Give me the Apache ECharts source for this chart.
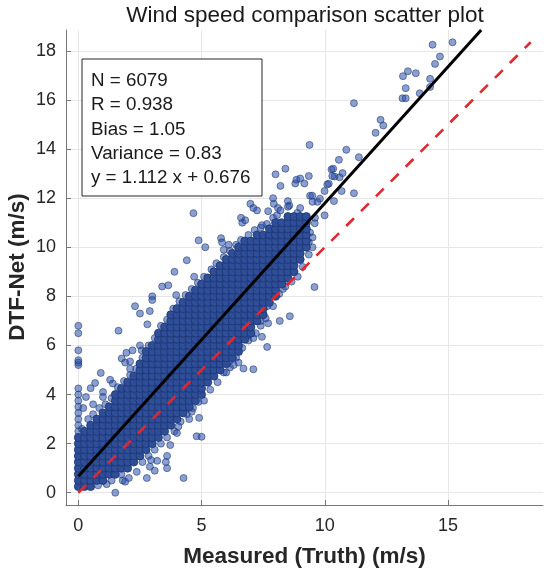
<!DOCTYPE html>
<html>
<head>
<meta charset="utf-8">
<script src="https://cdn.jsdelivr.net/npm/echarts@6/dist/echarts.min.js"></script>
<style>
  html, body { margin: 0; padding: 0; background: #fff; }
  #chart { width: 550px; height: 577px; }
</style>
</head>
<body>
<div id="chart"></div>
<script>
// ---------- data ----------
const titleText = 'Wind speed comparison scatter plot';
const xAxisTitle = 'Measured (Truth) (m/s)';
const yAxisTitle = 'DTF-Net (m/s)';
const xTicks = [0, 5, 10, 15];
const yTicks = [0, 2, 4, 6, 8, 10, 12, 14, 16, 18];
const axisMin = -0.5;
const axisMax = 18.85;
const fitSlope = 1.112;
const fitIntercept = 0.676;
const statsLines = ['N = 6079', 'R = 0.938', 'Bias = 1.05', 'Variance = 0.83', 'y = 1.112 x + 0.676'];

// dense core, columns [x, [y values]]
const coreA = [
  [0, [0.25,0.5,0.75,1,1.25,1.5,1.75,2,2.25]],
  [0.25, [0.25,0.5,0.75,1,1.25,1.5,1.75,2,2.25,2.5]],
  [0.5, [0.25,0.5,0.75,1,1.25,1.5,1.75,2,2.25,2.5,2.75]],
  [0.75, [0.5,0.75,1,1.25,1.5,1.75,2,2.25,2.5,2.75,3]],
  [1, [0.5,0.75,1,1.25,1.5,1.75,2,2.25,2.5,2.75,3,3.25]],
  [1.25, [0.75,1,1.25,1.5,1.75,2,2.25,2.5,2.75,3,3.25,3.5]],
  [1.5, [0.75,1,1.25,1.5,1.75,2,2.25,2.5,2.75,3,3.25,3.5,3.75,4]],
  [1.75, [1,1.25,1.5,1.75,2,2.25,2.5,2.75,3,3.25,3.5,3.75,4,4.25]],
  [2, [1,1.25,1.5,1.75,2,2.25,2.5,2.75,3,3.25,3.5,3.75,4,4.25,4.5]]
];
const coreB = [
  [2.25, [1.25,1.5,1.75,2,2.25,2.5,2.75,3,3.25,3.5,3.75,4,4.25,4.5,4.75]],
  [2.5, [1.5,1.75,2,2.25,2.5,2.75,3,3.25,3.5,3.75,4,4.25,4.5,4.75,5,5.25]],
  [2.75, [1.75,2,2.25,2.5,2.75,3,3.25,3.5,3.75,4,4.25,4.5,4.75,5,5.25,5.5,5.75]],
  [3, [2,2.25,2.5,2.75,3,3.25,3.5,3.75,4,4.25,4.5,4.75,5,5.25,5.5,5.75,6]],
  [3.25, [2.25,2.5,2.75,3,3.25,3.5,3.75,4,4.25,4.5,4.75,5,5.25,5.5,5.75,6,6.25,6.5]],
  [3.5, [2.5,2.75,3,3.25,3.5,3.75,4,4.25,4.5,4.75,5,5.25,5.5,5.75,6,6.25,6.5,6.75]],
  [3.75, [2.75,3,3.25,3.5,3.75,4,4.25,4.5,4.75,5,5.25,5.5,5.75,6,6.25,6.5,6.75,7,7.25]],
  [4, [3,3.25,3.5,3.75,4,4.25,4.5,4.75,5,5.25,5.5,5.75,6,6.25,6.5,6.75,7,7.25,7.5]],
  [4.25, [3.25,3.5,3.75,4,4.25,4.5,4.75,5,5.25,5.5,5.75,6,6.25,6.5,6.75,7,7.25,7.5,7.75]],
  [4.5, [3.5,3.75,4,4.25,4.5,4.75,5,5.25,5.5,5.75,6,6.25,6.5,6.75,7,7.25,7.5,7.75,8]]
];
const coreC = [
  [4.75, [3.75,4,4.25,4.5,4.75,5,5.25,5.5,5.75,6,6.25,6.5,6.75,7,7.25,7.5,7.75,8,8.25]],
  [5, [4,4.25,4.5,4.75,5,5.25,5.5,5.75,6,6.25,6.5,6.75,7,7.25,7.5,7.75,8,8.25,8.5]],
  [5.25, [4.5,4.75,5,5.25,5.5,5.75,6,6.25,6.5,6.75,7,7.25,7.5,7.75,8,8.25,8.5,8.75]],
  [5.5, [4.75,5,5.25,5.5,5.75,6,6.25,6.5,6.75,7,7.25,7.5,7.75,8,8.25,8.5,8.75,9]],
  [5.75, [5,5.25,5.5,5.75,6,6.25,6.5,6.75,7,7.25,7.5,7.75,8,8.25,8.5,8.75,9,9.25]],
  [6, [5.25,5.5,5.75,6,6.25,6.5,6.75,7,7.25,7.5,7.75,8,8.25,8.5,8.75,9,9.25,9.5]],
  [6.25, [5.5,5.75,6,6.25,6.5,6.75,7,7.25,7.5,7.75,8,8.25,8.5,8.75,9,9.25,9.5,9.75]],
  [6.5, [5.75,6,6.25,6.5,6.75,7,7.25,7.5,7.75,8,8.25,8.5,8.75,9,9.25,9.5,9.75,10]],
  [6.75, [6.25,6.5,6.75,7,7.25,7.5,7.75,8,8.25,8.5,8.75,9,9.25,9.5,9.75,10,10.25]],
  [7, [6.5,6.75,7,7.25,7.5,7.75,8,8.25,8.5,8.75,9,9.25,9.5,9.75,10,10.25]]
];
const coreD = [
  [7.25, [7,7.25,7.5,7.75,8,8.25,8.5,8.75,9,9.25,9.5,9.75,10,10.25,10.5]],
  [7.5, [7.25,7.5,7.75,8,8.25,8.5,8.75,9,9.25,9.5,9.75,10,10.25,10.5]],
  [7.75, [7.75,8,8.25,8.5,8.75,9,9.25,9.5,9.75,10,10.25,10.5,10.75]],
  [8, [8,8.25,8.5,8.75,9,9.25,9.5,9.75,10,10.25,10.5,10.75,11]],
  [8.25, [8.5,8.75,9,9.25,9.5,9.75,10,10.25,10.5,10.75,11]],
  [8.5, [8.75,9,9.25,9.5,9.75,10,10.25,10.5,10.75,11,11.25]],
  [8.75, [9,9.25,9.5,9.75,10,10.25,10.5,10.75,11,11.25]],
  [9, [9.5,9.75,10,10.25,10.5,10.75,11,11.25]],
  [9.25, [10,10.25,10.5,10.75,11,11.25]]
];
// sparse points at measured = 0
const zeroColumnY = [2.5,2.75,3,3.25,3.5,3.75,4,4.25,5.2,5.3,5.4,5.8,6.5,6.8];
// semi-dense fringe around the core
const fringe = [
  [0.15,2.6],[0.4,3.0],[0.6,3.2],[0.85,3.45],[1.1,3.6],[1.35,3.85],[1.15,0.35],[1.35,0.5],
  [1.6,4.3],[1.85,4.55],[2.1,4.8],[2.35,5.05],[2.6,5.5],[2.85,6.0],[3.1,6.3],[3.35,6.8],
  [3.6,7.05],[3.85,7.5],[4.1,7.8],[4.35,8.05],[4.6,8.3],[4.85,8.55],[5.1,8.8],[5.4,9.1],
  [5.6,9.35],[5.9,9.6],[6.15,9.85],[6.4,10.1],[6.6,10.3],[6.9,10.5],[7.15,10.7],[7.4,10.8],
  [7.65,10.95],[7.9,11.2],[2.6,1.25],[2.85,1.5],[3.1,1.75],[3.35,2.0],[3.6,2.25],[3.9,2.5],
  [4.15,2.9],[4.4,3.2],[4.65,3.45],[5.1,3.75],[5.35,4.2],[5.65,4.5],[5.9,4.9],[6.15,5.1],
  [6.4,5.5],[6.65,5.9],[6.9,6.2],[7.1,6.3],[7.4,6.8],[7.6,7.1],[7.9,7.6],[8.15,8.1],
  [8.4,8.4],[8.65,8.6],[8.9,8.8],[9.1,9.2],[9.35,9.7],[9.5,10.0]
];
// isolated points below the band
const sparseBelow = [
  [1.5,0],[0.8,0.3],[1.8,0.5],[1.9,0.45],[2.05,0.6],[1.75,0.75],[2.37,0.85],[2.35,1.47],
  [2.78,0.6],[2.9,1.06],[2.95,1.33],[3.1,0.9],[3.2,1.3],[3.55,1.25],[3.6,1.5],[3.6,1.0],
  [3.73,1.94],[4.27,0.6],[4.0,2.43],[4.06,2.7],[4.8,2.3],[5.0,2.28],[4.5,3.0],[4.9,3.05],
  [4.17,3.45],[4.46,3.45],[4.6,3.3],[4.65,3.97],[4.87,3.7],[4.87,4.1],
  [6.0,4.9],[6.17,5.4],[6.3,5.2],[6.5,5.3],[6.7,5.06],[7.1,5.03],[6.9,6.4],[7.2,6.5],
  [7.45,6.35],[7.66,5.94],[7.4,7.0],[7.7,6.9],[7.66,7.6],[7.8,7.97],[8.17,7.0],[8.58,7.19],
  [8.2,8.5],[8.3,8.3],[8.47,8.65],[8.6,9.0],[9.58,8.38],[9.35,10.21],[9.4,10.6],[9.5,10.4],
  [9.59,10.98],[9.6,11.2],[9.99,11.3]
];
// isolated points above the band
const sparseAbove = [
  [0.2,3.45],[0.31,3.9],[0.5,4.26],[0.68,4.47],[0.6,3.6],[1.0,4.1],[1.0,3.9],[0.91,4.88],
  [1.29,4.6],[1.4,4.45],[1.63,6.6],[1.76,5.47],[1.9,5.3],[1.95,5.7],[2.1,5.35],[2.1,5.05],
  [2.2,5.8],[2.5,6.0],[2.57,5.8],[2.8,6.86],[2.3,7.6],[2.5,7.3],[2.9,7.4],[3.0,8.0],
  [3.0,7.85],[3.4,8.4],[3.65,8.45],[3.97,8.05],[3.9,9.0],[4.7,8.8],[4.4,9.47],[4.67,11.39],
  [4.88,10.28],[5.15,10.0],[5.79,10.37],[5.83,10.2],[5.9,9.9],[6.1,10.1],[6.65,11.0],
  [6.77,11.1],[6.6,11.2],[6.98,11.77],[7.1,11.6],[7.25,11.5],[7.45,10.9],[7.7,11.47],
  [7.93,11.77],[7.9,12.0],[8.06,11.3],[8.1,11.6],[8.2,11.5],[8.5,11.88],[8.56,11.7],
  [8.5,11.65],[8.88,11.4],[9.0,11.6],[9.4,12.1],[9.5,11.85],[9.7,11.85],[9.8,11.98],
  [9.99,12.29],[10.16,12.59],[10.27,13.17],[10.4,12.88],[10.6,12.85],[10.72,13.02],
  [10.57,13.56],[10.87,13.97],[11.38,13.67],[10.37,11.88],[10.68,12.29],[11.18,12.2],
  [9.49,12.1],[9.35,12.9],[8.8,12.6],[8.85,12.75],[9.0,12.8],[9.17,12.6],[8.4,13.2],
  [8.0,12.97],[8.2,12.5],[10.1,12.56],[10.34,13.2],[10.3,12.9],[9.38,14.17]
];
// far upper-right points
const sparseTop = [
  [11.18,15.87],[12.26,15.19],[12.37,14.96],[12.06,14.66],[13.15,16.07],[13.28,16.07],
  [13.28,16.48],[13.17,16.97],[13.37,17.17],[13.69,17.09],[13.85,16.27],[14.27,16.53],
  [14.27,16.86],[14.47,17.47],[14.67,17.77],[14.37,18.25],[15.18,18.35]
];

// ---------- build series data ----------
const corePoints = [];
[coreA, coreB, coreC, coreD].forEach(function (group) {
  group.forEach(function (col) {
    col[1].forEach(function (y) { corePoints.push([col[0], y]); });
  });
});
const loosePoints = [];
zeroColumnY.forEach(function (y) { loosePoints.push([0, y]); });
fringe.concat(sparseBelow, sparseAbove, sparseTop).forEach(function (p) { loosePoints.push(p); });

let dataMax = 0;
corePoints.concat(loosePoints).forEach(function (p) { dataMax = Math.max(dataMax, p[0], p[1]); });
const fitXEnd = (axisMax - fitIntercept) / fitSlope;
const fitLine = [[0, fitIntercept], [fitXEnd, fitSlope * fitXEnd + fitIntercept]];
const oneToOne = [[0, 0], [dataMax, dataMax]];

const FONT = '"Liberation Sans", Arial, Helvetica, sans-serif';
const chart = echarts.init(document.getElementById('chart'), null, { renderer: 'canvas' });

chart.setOption({
  animation: false,
  backgroundColor: '#ffffff',
  grid: { left: 66, right: 7, top: 30, bottom: 72, containLabel: false, outerBoundsMode: 'none' },
  xAxis: {
    type: 'value', min: axisMin, max: axisMax,
    name: xAxisTitle, nameLocation: 'middle', nameGap: 40, nameMoveOverlap: false,
    nameTextStyle: { fontFamily: FONT, fontSize: 22.5, fontWeight: 'bold', color: '#262626' },
    axisLine: { show: true, onZero: false, lineStyle: { color: '#777777', width: 1 } },
    axisTick: { show: true, inside: true, length: 5, customValues: xTicks, lineStyle: { color: '#777777' } },
    axisLabel: { customValues: xTicks, fontFamily: FONT, fontSize: 18, color: '#262626', margin: 12 },
    splitLine: { show: true, lineStyle: { color: '#e6e6e6', width: 1 } }
  },
  yAxis: {
    type: 'value', min: axisMin, max: axisMax,
    axisLine: { show: true, onZero: false, lineStyle: { color: '#777777', width: 1 } },
    axisTick: { show: true, inside: true, length: 5, customValues: yTicks, lineStyle: { color: '#777777' } },
    axisLabel: { customValues: yTicks, fontFamily: FONT, fontSize: 18, color: '#262626', margin: 10 },
    splitLine: { show: true, lineStyle: { color: '#e6e6e6', width: 1 } }
  },
  series: [
    {
      type: 'scatter', data: loosePoints, symbol: 'circle', symbolSize: 7, z: 2, large: false,
      itemStyle: { color: 'rgba(40,80,170,0.68)', borderColor: '#1b3470', borderWidth: 0.7 }
    },
    {
      type: 'scatter', data: corePoints, symbol: 'circle', symbolSize: 8, z: 2, large: false,
      itemStyle: { color: '#2e4e99', borderColor: '#1d336c', borderWidth: 0.8, opacity: 1 }
    },
    {
      type: 'line', data: oneToOne, symbol: 'none', z: 3,
      lineStyle: { color: '#e0282e', width: 2.6, type: [11, 10] }
    },
    {
      type: 'line', data: fitLine, symbol: 'none', z: 4,
      lineStyle: { color: '#000000', width: 3 }
    }
  ],
  graphic: [
    {
      type: 'text', x: 305, y: 16, z: 10,
      style: { text: titleText, font: '22.5px ' + FONT, fill: '#1a1a1a', align: 'center', verticalAlign: 'middle' }
    },
    {
      type: 'text', x: 18, y: 267, rotation: Math.PI / 2, z: 10,
      style: { text: yAxisTitle, font: 'bold 22.5px ' + FONT, fill: '#262626', align: 'center', verticalAlign: 'middle' }
    },
    {
      type: 'rect', x: 82, y: 59, z: 10,
      shape: { x: 0, y: 0, width: 180, height: 137 },
      style: { fill: '#ffffff', stroke: '#262626', lineWidth: 1 }
    },
    {
      type: 'text', x: 91, y: 69, z: 11,
      style: { text: statsLines.join('\n'), font: '18.8px ' + FONT, lineHeight: 24.2, fill: '#1a1a1a', verticalAlign: 'top' }
    }
  ]
});
</script>
</body>
</html>
